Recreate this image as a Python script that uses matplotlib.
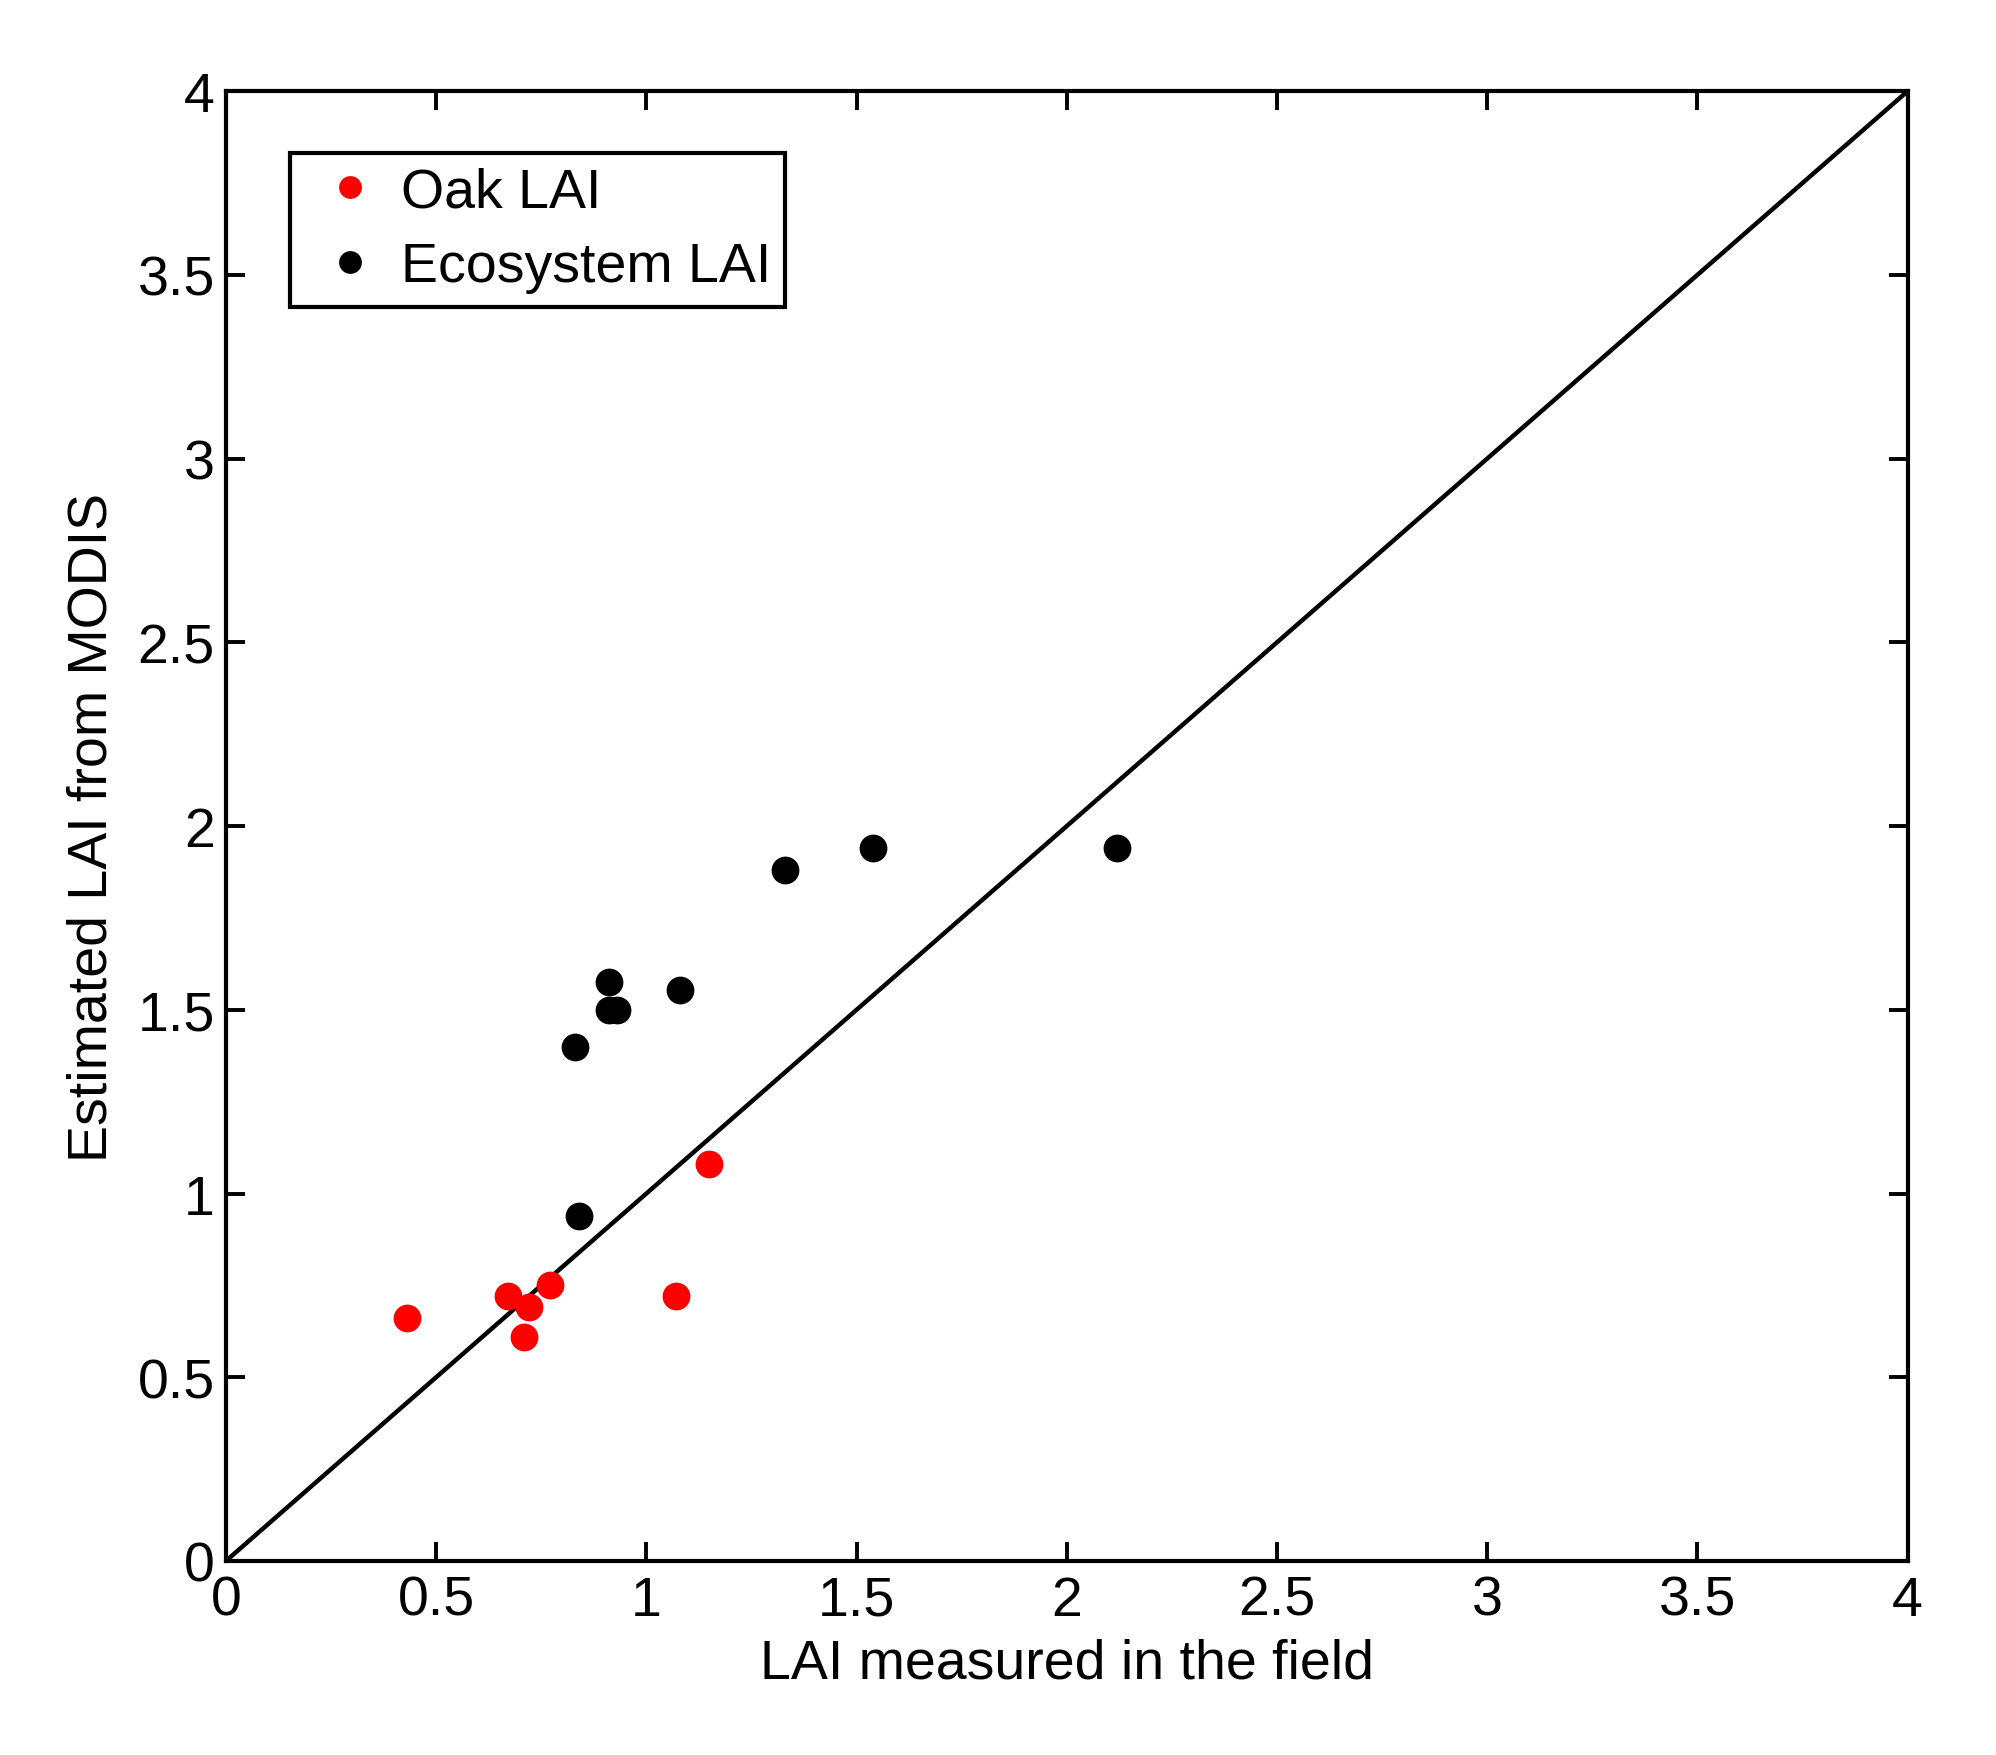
import matplotlib.pyplot as plt
import numpy as np

# Oak LAI (red) and Ecosystem LAI (black): field value vs MODIS estimate
oak_field = [0.43, 0.67, 0.72, 0.71, 0.77, 1.07, 1.15]
oak_modis = [0.66, 0.72, 0.69, 0.61, 0.75, 0.72, 1.08]

eco_field = [0.84, 0.83, 0.91, 0.91, 0.93, 1.08, 1.33, 1.54, 2.12]
eco_modis = [0.94, 1.40, 1.575, 1.50, 1.50, 1.555, 1.88, 1.94, 1.94]

ticks = [0, 0.5, 1, 1.5, 2, 2.5, 3, 3.5, 4]
tick_labels = ['0', '0.5', '1', '1.5', '2', '2.5', '3', '3.5', '4']

plt.rcParams['font.family'] = ['Liberation Sans', 'DejaVu Sans']
plt.rcParams['font.size'] = 20

fig = plt.figure(figsize=(9.98, 8.78), dpi=200)
ax = fig.add_axes([0.1132, 0.1105, 0.8425, 0.837])

# 1:1 line
ax.plot([0, 4], [0, 4], color='black', linewidth=1.6)
ax.plot(oak_field, oak_modis, 'o', color='red', markersize=9, label='Oak LAI')
ax.plot(eco_field, eco_modis, 'o', color='black', markersize=9, label='Ecosystem LAI')

ax.set_xlim(0, 4)
ax.set_ylim(0, 4)
ax.set_xticks(ticks)
ax.set_xticklabels(tick_labels)
ax.set_yticks(ticks)
ax.set_yticklabels(tick_labels)
ax.tick_params(direction='in', top=True, right=True, length=7, width=1.4,
               labelsize=20)
ax.tick_params(axis='x', pad=5)
ax.tick_params(axis='y', pad=4)
for s in ax.spines.values():
    s.set_linewidth(1.5)

ax.set_xlabel('LAI measured in the field', fontsize=20, labelpad=4)
ax.set_ylabel('Estimated LAI from MODIS', fontsize=20, labelpad=7)

leg = ax.legend(loc='upper left', bbox_to_anchor=(0.038, 0.958), borderaxespad=0,
                fancybox=False, edgecolor='black', framealpha=1,
                handlelength=1.65, handletextpad=0.1, borderpad=0.25,
                labelspacing=0.4, fontsize=20, markerscale=0.8)
leg.get_frame().set_linewidth(1.5)

plt.savefig('out.png', dpi=200)
